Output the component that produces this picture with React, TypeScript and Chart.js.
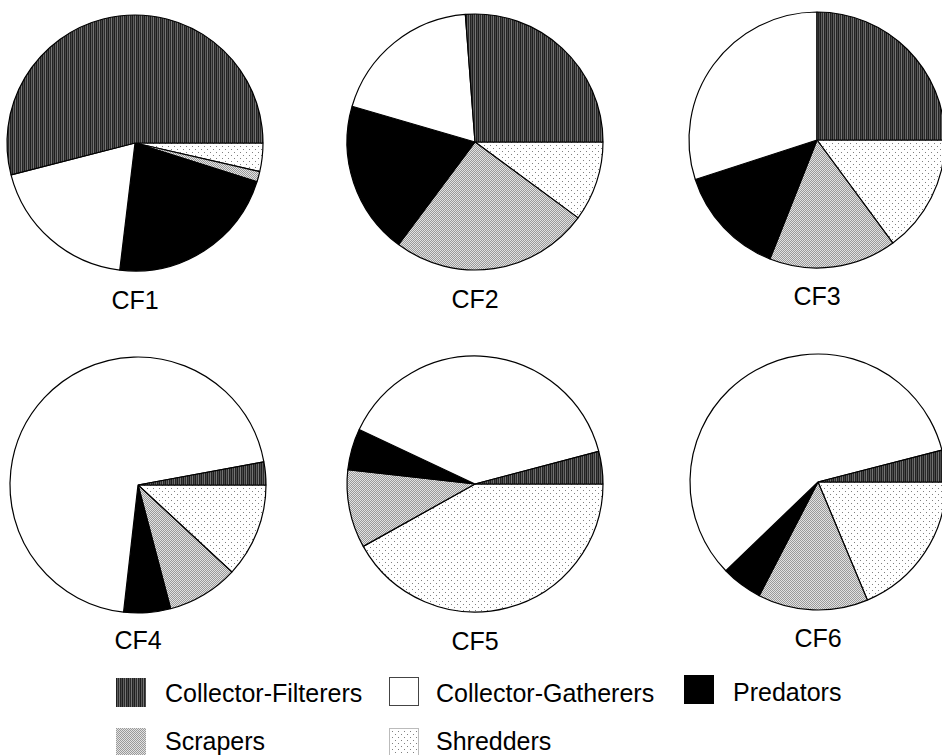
import React, { useEffect, useRef } from "react";
import { Chart, registerables } from "chart.js";
Chart.register(...registerables);

// ---- data (percent of each functional feeding group, legend order) ----
const categories = ["Collector-Filterers", "Collector-Gatherers", "Predators", "Scrapers", "Shredders"];
const siteLabels = ["CF1", "CF2", "CF3", "CF4", "CF5", "CF6"];
const cf1 = [54.0, 19.1, 22.0, 1.3, 3.6];
const cf2 = [26.2, 19.3, 19.3, 25.1, 10.1];
const cf3 = [25.0, 30.0, 14.0, 16.1, 14.9];
const cf4 = [2.9, 70.3, 5.9, 9.0, 11.9];
const cf5 = [4.1, 38.9, 5.2, 9.9, 41.9];
const cf6 = [4.0, 58.2, 5.2, 13.9, 18.7];
const siteValues = [cf1, cf2, cf3, cf4, cf5, cf6];

// ---- layout (styles only) ----
const pieLayout = [
  { cx: 135, cy: 143, labelTop: 288 },
  { cx: 475, cy: 142, labelTop: 287 },
  { cx: 817, cy: 140, labelTop: 284 },
  { cx: 138, cy: 485, labelTop: 628 },
  { cx: 475, cy: 484, labelTop: 629 },
  { cx: 818, cy: 482, labelTop: 626 },
];
const legendLayout = [
  { sx: 116, sy: 678, tx: 165, ty: 681 },
  { sx: 389, sy: 677, tx: 436, ty: 681 },
  { sx: 684, sy: 675, tx: 733, ty: 680 },
  { sx: 116, sy: 728, tx: 165, ty: 729 },
  { sx: 389, sy: 728, tx: 436, ty: 729 },
];
const FONT = '"Liberation Sans", Arial, Helvetica, sans-serif';

function makeTile(kind: number): HTMLCanvasElement {
  const c = document.createElement("canvas");
  const g = c.getContext("2d")!;
  if (kind === 0) {
    // dark vertical streaks
    c.width = 6; c.height = 1;
    const cols = ["#1e1e1e", "#5e5e5e", "#2c2c2c", "#747474", "#242424", "#4a4a4a"];
    for (let x = 0; x < 6; x++) {
      g.fillStyle = cols[x];
      g.fillRect(x, 0, 1, 1);
    }
  } else if (kind === 1) {
    c.width = 1; c.height = 1;
    g.fillStyle = "#ffffff"; g.fillRect(0, 0, 1, 1);
  } else if (kind === 2) {
    c.width = 1; c.height = 1;
    g.fillStyle = "#000000"; g.fillRect(0, 0, 1, 1);
  } else if (kind === 3) {
    // fine stipple light gray
    c.width = 2; c.height = 2;
    g.fillStyle = "#e2e2e2"; g.fillRect(0, 0, 2, 2);
    g.fillStyle = "#9a9a9a"; g.fillRect(0, 0, 1, 1); g.fillRect(1, 1, 1, 1);
  } else {
    // sparse dots on white
    c.width = 6; c.height = 6;
    g.fillStyle = "#ffffff"; g.fillRect(0, 0, 6, 6);
    g.fillStyle = "#808080"; g.fillRect(0, 0, 1, 1); g.fillRect(3, 3, 1, 1);
  }
  return c;
}

function fillsFor(ctx: CanvasRenderingContext2D) {
  return categories.map((_, i) => ctx.createPattern(makeTile(i), "repeat") as CanvasPattern);
}

function Pie({ values, cx, cy }: { values: number[]; cx: number; cy: number }) {
  const ref = useRef<HTMLCanvasElement>(null);
  useEffect(() => {
    const canvas = ref.current!;
    const ctx = canvas.getContext("2d")!;
    const fills = fillsFor(ctx);
    const order = [4, 3, 2, 1, 0];
    const chart = new Chart(canvas, {
      type: "pie",
      data: {
        labels: order.map((i) => categories[i]),
        datasets: [
          {
            data: order.map((i) => values[i]),
            backgroundColor: order.map((i) => fills[i]),
            borderColor: "#000",
            borderWidth: 1.2,
          },
        ],
      },
      options: {
        responsive: false,
        animation: false,
        rotation: 90,
        radius: 128,
        events: [],
        layout: { padding: 0 },
        plugins: { legend: { display: false }, tooltip: { enabled: false } },
      },
    });
    return () => chart.destroy();
  }, []);
  return (
    <canvas
      ref={ref}
      width={270}
      height={270}
      style={{ position: "absolute", left: cx - 135, top: cy - 135, width: 270, height: 270 }}
    />
  );
}

function Swatch({ kind, x, y }: { kind: number; x: number; y: number }) {
  const ref = useRef<HTMLCanvasElement>(null);
  useEffect(() => {
    const g = ref.current!.getContext("2d")!;
    g.fillStyle = g.createPattern(makeTile(kind), "repeat") as CanvasPattern;
    g.fillRect(0, 0, 30, 29);
    if (kind === 1 || kind === 4) {
      g.strokeStyle = kind === 1 ? "#444" : "#bbb";
      g.lineWidth = 1;
      g.strokeRect(0.5, 0.5, 29, 28);
    }
  }, []);
  return <canvas ref={ref} width={30} height={29} style={{ position: "absolute", left: x, top: y }} />;
}

export default function App() {
  return (
    <div
      style={{
        position: "fixed",
        left: 0,
        top: 0,
        width: 942,
        height: 755,
        overflow: "hidden",
        background: "#fff",
        fontFamily: FONT,
      }}
    >
      {siteValues.map((v, i) => (
        <Pie key={"p" + i} values={v} cx={pieLayout[i].cx} cy={pieLayout[i].cy} />
      ))}
      {siteLabels.map((s, i) => (
        <div
          key={"l" + i}
          style={{
            position: "absolute",
            left: pieLayout[i].cx - 60,
            width: 120,
            top: pieLayout[i].labelTop,
            textAlign: "center",
            fontSize: 25,
            lineHeight: "25px",
            color: "#000",
          }}
        >
          {s}
        </div>
      ))}
      {categories.map((c, i) => (
        <React.Fragment key={"g" + i}>
          <Swatch kind={i} x={legendLayout[i].sx} y={legendLayout[i].sy} />
          <div
            style={{
              position: "absolute",
              left: legendLayout[i].tx,
              top: legendLayout[i].ty,
              fontSize: 25,
              lineHeight: "25px",
              whiteSpace: "nowrap",
              color: "#000",
            }}
          >
            {c}
          </div>
        </React.Fragment>
      ))}
    </div>
  );
}
